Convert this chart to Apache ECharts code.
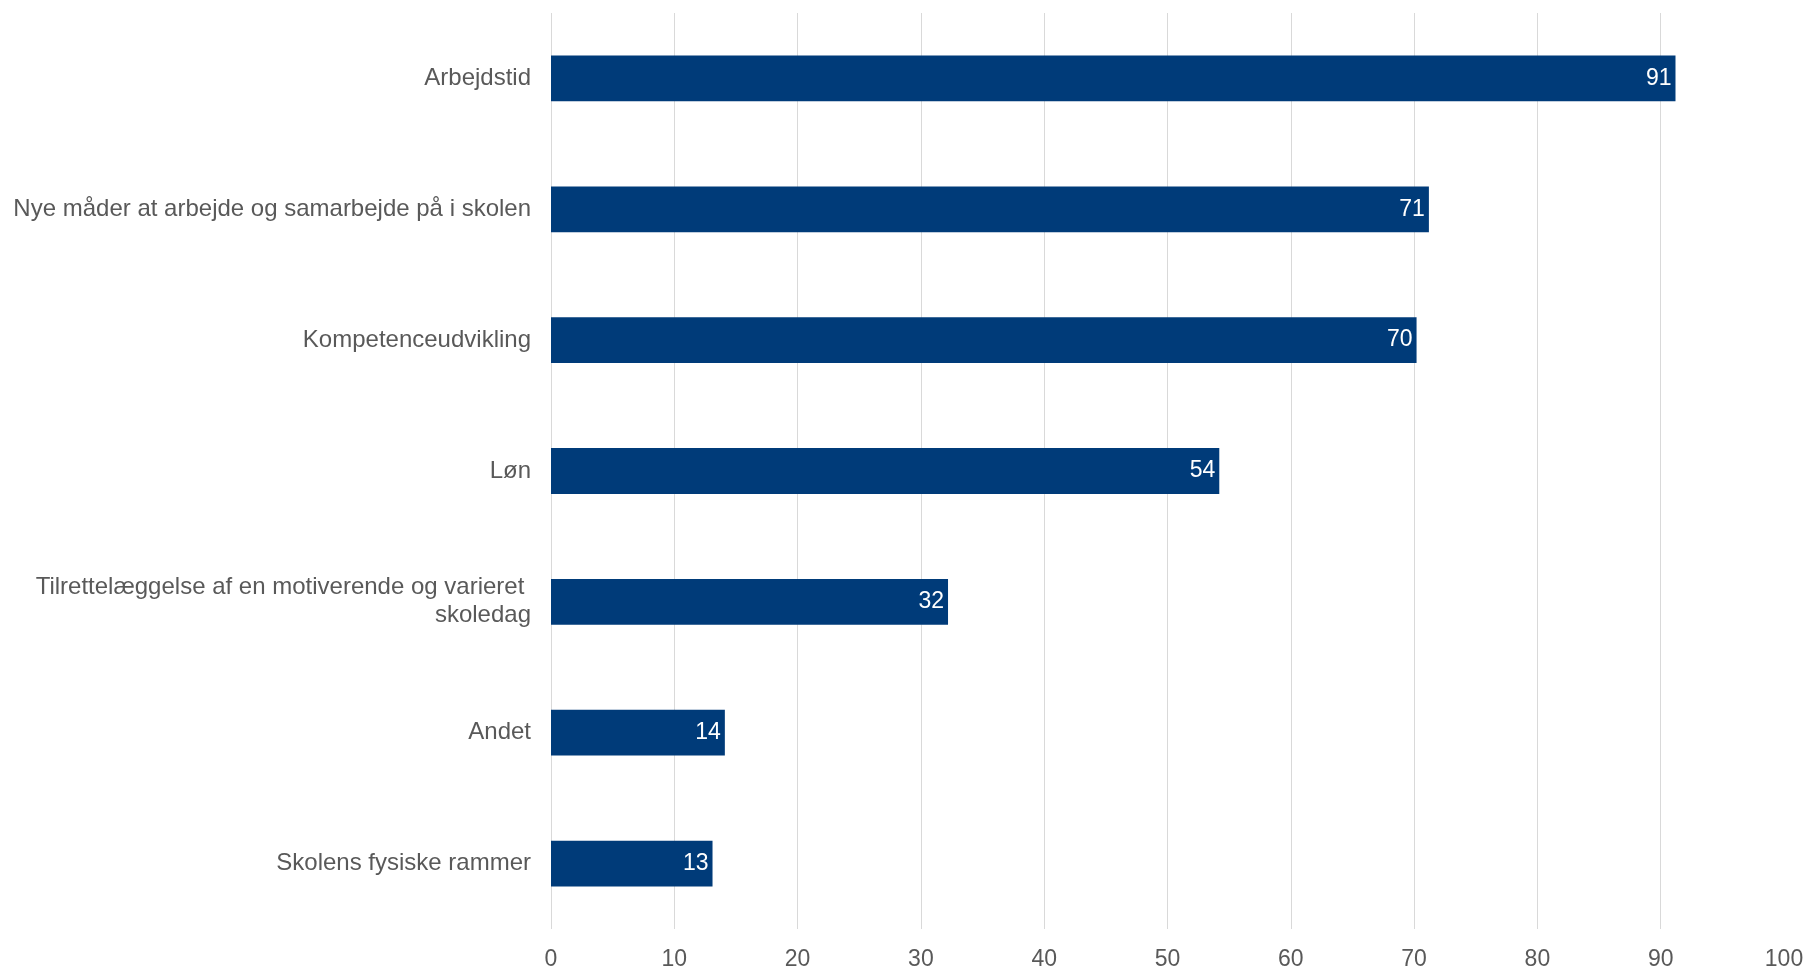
<!DOCTYPE html>
<html>
<head>
<meta charset="utf-8">
<script src="https://cdn.jsdelivr.net/npm/echarts@6/dist/echarts.min.js"></script>
<style>
html,body{margin:0;padding:0;background:#fff;}
#chart{width:1811px;height:971px;}
</style>
</head>
<body>
<div id="chart"></div>
<script>
const categories = [
  "Arbejdstid",
  "Nye måder at arbejde og samarbejde på i skolen",
  "Kompetenceudvikling",
  "Løn",
  "Tilrettelæggelse af en motiverende og varieret \nskoledag",
  "Andet",
  "Skolens fysiske rammer"
];
const values = [91.2, 71.2, 70.2, 54.2, 32.2, 14.1, 13.1];
const xMin = 0, xMax = 100, xStep = 10;

const chart = echarts.init(document.getElementById('chart'));
chart.setOption({
  backgroundColor: '#ffffff',
  animation: false,
  textStyle: { fontFamily: 'Liberation Sans, Arial, sans-serif' },
  grid: { left: 551, right: 27, top: 13, bottom: 40, containLabel: false },
  xAxis: {
    type: 'value', min: xMin, max: xMax, interval: xStep,
    axisLine: { show: false }, axisTick: { show: false },
    axisLabel: { color: '#595959', fontSize: 23, margin: 19, fontFamily: 'Liberation Sans, Arial, sans-serif' },
    splitLine: { show: true, showMaxLine: false, lineStyle: { color: '#d9d9d9', width: 1 } }
  },
  yAxis: {
    type: 'category', data: categories, inverse: true,
    axisLine: { show: false }, axisTick: { show: false },
    axisLabel: { color: '#595959', fontSize: 24, margin: 20, lineHeight: 28, align: 'right',
      padding: [8, 0, 0, 0], fontFamily: 'Liberation Sans, Arial, sans-serif' },
    splitLine: { show: false }
  },
  series: [{
    type: 'bar', data: values, barWidth: '35%',
    itemStyle: { color: '#003b79' },
    label: {
      show: true, position: 'insideRight', distance: 4,
      color: '#ffffff', fontSize: 23, padding: [7, 0, 0, 0], fontFamily: 'Liberation Sans, Arial, sans-serif',
      formatter: p => Math.round(p.value)
    }
  }]
});
</script>
</body>
</html>
